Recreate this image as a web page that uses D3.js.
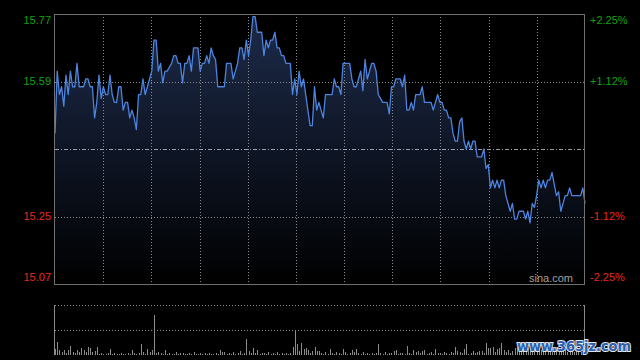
<!DOCTYPE html>
<html><head><meta charset="utf-8">
<script src="https://cdn.jsdelivr.net/npm/d3@7/dist/d3.min.js"></script>
<style>html,body{margin:0;padding:0;background:#000;}svg{display:block;}</style>
</head><body>
<svg id="c" width="640" height="360"></svg>
<script>
const prevClose = 15.42;
const pctTicks = [2.25, 1.125, -1.125, -2.25];
const leftLabels = ["15.77", "15.59", "15.25", "15.07"];
const rightLabels = ["+2.25%", "+1.12%", "-1.12%", "-2.25%"];
const prices = [
15.46,15.62,15.56,15.58,15.53,15.61,15.56,15.62,15.58,15.58,
15.64,15.58,15.58,15.58,15.60,15.60,15.58,15.58,15.50,15.54,
15.61,15.55,15.58,15.56,15.56,15.61,15.56,15.54,15.54,15.58,
15.58,15.52,15.54,15.54,15.50,15.52,15.50,15.47,15.56,15.56,
15.60,15.56,15.58,15.60,15.62,15.70,15.70,15.62,15.64,15.59,
15.62,15.62,15.63,15.64,15.66,15.66,15.64,15.64,15.59,15.64,
15.64,15.66,15.62,15.68,15.68,15.68,15.62,15.64,15.64,15.66,
15.64,15.68,15.66,15.65,15.58,15.58,15.58,15.58,15.64,15.64,
15.64,15.60,15.62,15.64,15.68,15.68,15.65,15.70,15.66,15.70,
15.76,15.76,15.72,15.72,15.72,15.66,15.70,15.68,15.70,15.70,
15.72,15.68,15.68,15.66,15.66,15.64,15.64,15.64,15.56,15.60,
15.56,15.62,15.58,15.60,15.56,15.52,15.48,15.48,15.58,15.52,
15.54,15.52,15.50,15.56,15.56,15.56,15.56,15.60,15.58,15.58,
15.56,15.64,15.64,15.64,15.64,15.60,15.58,15.58,15.60,15.62,
15.57,15.65,15.60,15.62,15.64,15.64,15.62,15.56,15.55,15.54,
15.54,15.54,15.51,15.58,15.58,15.60,15.60,15.60,15.58,15.61,
15.52,15.52,15.54,15.52,15.56,15.56,15.56,15.58,15.54,15.54,
15.54,15.54,15.52,15.54,15.56,15.54,15.54,15.52,15.52,15.50,
15.50,15.46,15.44,15.44,15.49,15.50,15.44,15.42,15.44,15.42,
15.44,15.44,15.40,15.40,15.40,15.42,15.37,15.38,15.32,15.34,
15.32,15.34,15.32,15.34,15.34,15.30,15.28,15.26,15.28,15.24,
15.24,15.26,15.26,15.26,15.24,15.26,15.23,15.28,15.27,15.30,
15.34,15.32,15.34,15.32,15.34,15.34,15.36,15.33,15.30,15.31,
15.26,15.28,15.30,15.30,15.32,15.30,15.30,15.30,15.30,15.30,
15.32,15.28];
const volumes = [
6,13,5,3,5,2,5,9,3,2,5,3,7,5,3,8,7,3,4,8,
1,2,1,1,2,6,1,2,1,1,2,1,1,2,1,5,2,1,2,11,
3,1,6,3,5,40,2,3,2,1,5,1,2,1,1,3,1,2,2,1,
1,2,1,3,1,1,2,1,2,1,2,1,1,2,1,5,3,3,1,2,
1,3,1,2,4,1,2,16,4,2,7,2,5,1,2,2,1,3,1,2,
1,3,1,2,1,2,1,2,8,24,11,4,12,6,7,5,2,4,8,4,
4,2,1,3,1,6,2,1,3,2,1,6,3,1,2,5,3,6,2,1,
3,1,2,1,2,1,2,11,2,1,3,1,2,2,4,5,1,2,2,1,
9,2,1,5,3,4,2,4,5,1,2,3,1,6,2,2,1,3,2,1,
3,2,8,4,3,2,6,11,1,2,4,2,3,4,4,2,12,7,7,8,
3,6,7,12,5,3,5,2,4,7,8,5,4,6,3,7,4,5,3,4,
6,5,3,4,8,5,3,4,5,6,3,4,5,3,4,6,3,5,4,3,
5,4];

const svg = d3.select("#c");
const L = 55, R = 585, T = 14, B = 284;
const VT = 305, VB = 355;
const x = d3.scaleLinear().domain([0, 241]).range([L, R]);
const y = d3.scaleLinear().domain([prevClose * (1 - 0.0225), prevClose * (1 + 0.0225)]).range([B, T]);
const vy = d3.scaleLinear().domain([0, 50]).range([VB, VT]);

svg.append("rect").attr("width", 640).attr("height", 360).attr("fill", "#000");

const defs = svg.append("defs");
const g = defs.append("linearGradient").attr("id", "fillg")
  .attr("gradientUnits", "userSpaceOnUse").attr("x1", 0).attr("x2", 0).attr("y1", T).attr("y2", B);
g.append("stop").attr("offset", 0).attr("stop-color", "#1d2b4a");
g.append("stop").attr("offset", 1).attr("stop-color", "#000000");

const area = d3.area().x((d, i) => x(i)).y0(B).y1(d => y(d));
svg.append("path").datum(prices).attr("d", area).attr("fill", "url(#fillg)");

const vgrid = d3.range(1, 11).map(k => k * 241 / 11);
svg.append("g").selectAll("line").data(vgrid).join("line")
  .attr("x1", d => Math.round(x(d)) + 0.5).attr("x2", d => Math.round(x(d)) + 0.5)
  .attr("y1", T).attr("y2", B)
  .attr("stroke", "#8a8a8a").attr("stroke-dasharray", "1,2").attr("stroke-width", 1);

svg.append("g").selectAll("line").data(pctTicks).join("line")
  .attr("x1", L).attr("x2", R)
  .attr("y1", d => Math.round(y(prevClose * (1 + d / 100))) + 0.5)
  .attr("y2", d => Math.round(y(prevClose * (1 + d / 100))) + 0.5)
  .attr("stroke", "#8a8a8a").attr("stroke-dasharray", "1,2");

svg.append("line").attr("x1", L).attr("x2", R)
  .attr("y1", Math.round(y(prevClose)) + 0.5).attr("y2", Math.round(y(prevClose)) + 0.5)
  .attr("stroke", "#9aa0aa").attr("stroke-dasharray", "4,2,1,2");

const line = d3.line().x((d, i) => x(i)).y(d => y(d));
svg.append("path").datum(prices).attr("d", line).attr("fill", "none")
  .attr("stroke", "#4c84e0").attr("stroke-width", 1.3).attr("stroke-linejoin", "round");

svg.append("rect").attr("x", L - 0.5).attr("y", T + 0.5).attr("width", R - L).attr("height", B - T)
  .attr("fill", "none").attr("stroke", "#707070");

const labY = v => Math.max(20.5, Math.min(277.5, y(v)));
const colorOf = d => d > 0 ? "#12a012" : "#e62a1e";
svg.append("g").selectAll("text").data(pctTicks).join("text")
  .attr("x", 51).attr("y", d => labY(prevClose * (1 + d / 100)))
  .attr("dy", "0.36em").attr("text-anchor", "end")
  .attr("font-family", "Liberation Sans, Arial, sans-serif").attr("font-size", 11)
  .attr("fill", colorOf).text((d, i) => leftLabels[i]);
svg.append("g").selectAll("text").data(pctTicks).join("text")
  .attr("x", 590).attr("y", d => labY(prevClose * (1 + d / 100)))
  .attr("dy", "0.36em").attr("text-anchor", "start")
  .attr("font-family", "Liberation Sans, Arial, sans-serif").attr("font-size", 11)
  .attr("fill", colorOf).text((d, i) => rightLabels[i]);

svg.append("text").attr("x", 573).attr("y", 282).attr("text-anchor", "end")
  .attr("font-family", "Liberation Sans, Arial, sans-serif").attr("font-size", 11)
  .attr("fill", "#a0a0a0").text("sina.com");

svg.append("line").attr("x1", L).attr("x2", R).attr("y1", VT + 0.5).attr("y2", VT + 0.5)
  .attr("stroke", "#8a8a8a").attr("stroke-dasharray", "1,2");
svg.append("line").attr("x1", L).attr("x2", R).attr("y1", (VT + VB) / 2 + 0.5).attr("y2", (VT + VB) / 2 + 0.5)
  .attr("stroke", "#8a8a8a").attr("stroke-dasharray", "1,2");
svg.append("line").attr("x1", L - 0.5).attr("x2", L - 0.5).attr("y1", VT).attr("y2", VB)
  .attr("stroke", "#8a8a8a");
svg.append("line").attr("x1", R - 0.5).attr("x2", R - 0.5).attr("y1", VT).attr("y2", VB)
  .attr("stroke", "#8a8a8a");
svg.append("g").selectAll("rect").data(volumes).join("rect")
  .attr("x", (d, i) => Math.round(x(i)))
  .attr("y", d => vy(d)).attr("width", 1).attr("height", d => VB - vy(d))
  .attr("fill", "#8c8c8c");

svg.append("text").attr("x", 517).attr("y", 351)
  .attr("font-family", "DejaVu Sans, sans-serif").attr("font-weight", "bold").attr("font-size", 14)
  .attr("textLength", 114).attr("lengthAdjust", "spacingAndGlyphs")
  .attr("fill", "#2d5fae").attr("stroke", "#dfe6f0").attr("stroke-width", 2)
  .attr("paint-order", "stroke").text("www.365jz.com");
</script>
</body></html>
